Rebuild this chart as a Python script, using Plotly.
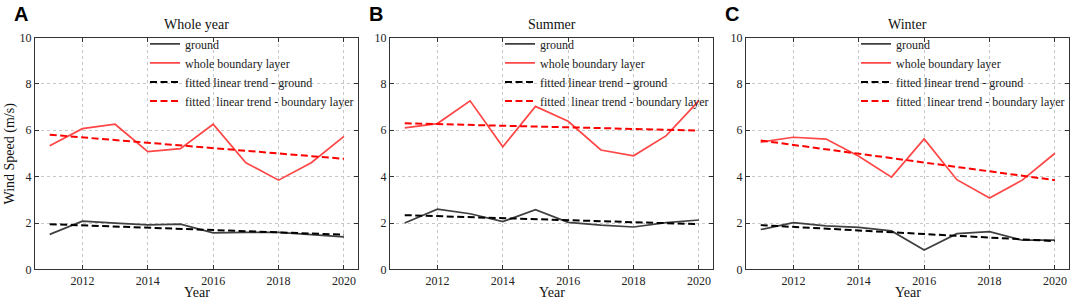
import plotly.graph_objects as go

years = [2011, 2012, 2013, 2014, 2015, 2016, 2017, 2018, 2019, 2020]
trend_years = [2011, 2020]

panel_titles = ["Whole year", "Summer", "Winter"]
panel_letters = ["A", "B", "C"]

# Whole year
ground_A = [1.51, 2.08, 2.00, 1.92, 1.95, 1.58, 1.60, 1.60, 1.50, 1.40]
bl_A = [5.33, 6.07, 6.26, 5.08, 5.21, 6.26, 4.60, 3.85, 4.60, 5.74]
trend_ground_A = [1.95, 1.50]
trend_bl_A = [5.81, 4.77]

# Summer
ground_B = [2.00, 2.60, 2.40, 2.06, 2.58, 2.03, 1.91, 1.83, 2.02, 2.13]
bl_B = [6.10, 6.29, 7.27, 5.29, 7.03, 6.39, 5.15, 4.90, 5.77, 7.28]
trend_ground_B = [2.34, 1.95]
trend_bl_B = [6.30, 5.99]

# Winter
ground_C = [1.72, 2.02, 1.88, 1.81, 1.66, 0.84, 1.54, 1.63, 1.26, 1.26]
bl_C = [5.49, 5.70, 5.62, 4.88, 3.98, 5.63, 3.87, 3.08, 3.85, 5.01]
trend_ground_C = [1.91, 1.22]
trend_bl_C = [5.56, 3.85]

series = [
    (ground_A, bl_A, trend_ground_A, trend_bl_A),
    (ground_B, bl_B, trend_ground_B, trend_bl_B),
    (ground_C, bl_C, trend_ground_C, trend_bl_C),
]

names = ["ground", "whole boundary layer", "fitted linear trend - ground",
         "fitted  linear trend - boundary layer"]

W, H = 1072, 306
x_px = [(35, 358), (390, 713), (746, 1069)]
y_top, y_bot = 32, 275
ydom = [1 - y_bot / H, 1 - y_top / H]

FONT = "Liberation Serif"
fig = go.Figure()

for i, (g, b, tg, tb) in enumerate(series):
    xa = "x" if i == 0 else f"x{i+1}"
    ya = "y" if i == 0 else f"y{i+1}"
    lg = "legend" if i == 0 else f"legend{i+1}"
    common = dict(xaxis=xa, yaxis=ya, legend=lg, mode="lines", hoverinfo="skip")
    fig.add_trace(go.Scatter(x=years, y=g, name=names[0],
                             line=dict(color="#404040", width=1.7), **common))
    fig.add_trace(go.Scatter(x=years, y=b, name=names[1],
                             line=dict(color="#ff4646", width=1.7), **common))
    fig.add_trace(go.Scatter(x=trend_years, y=tg, name=names[2],
                             line=dict(color="#000000", width=2, dash="7px,3.5px"), **common))
    fig.add_trace(go.Scatter(x=trend_years, y=tb, name=names[3],
                             line=dict(color="#ff0000", width=2, dash="7px,3.5px"), **common))

layout = dict(
    width=W, height=H,
    margin=dict(l=0, r=0, t=0, b=0),
    paper_bgcolor="white", plot_bgcolor="white",
    font=dict(family=FONT, size=12, color="#222"),
    showlegend=True,
)

axis_common = dict(
    showline=True, linecolor="#333", linewidth=1.2, mirror="ticks",
    ticks="inside", ticklen=4, tickcolor="#333",
    showgrid=True, gridcolor="#c8c8c8", griddash="dot", gridwidth=1,
    zeroline=False, tickfont=dict(family=FONT, size=12, color="#222"),
)

annotations = []
for i in range(3):
    sfx = "" if i == 0 else str(i + 1)
    x0, x1 = x_px[i]
    layout[f"xaxis{sfx}"] = dict(
        domain=[x0 / W, x1 / W], range=[2010.55, 2020.43],
        tickvals=[2012, 2014, 2016, 2018, 2020],
        anchor=f"y{sfx}", **axis_common)
    layout[f"yaxis{sfx}"] = dict(
        domain=ydom, range=[0, 10], tickvals=[0, 2, 4, 6, 8, 10],
        anchor=f"x{sfx}", **axis_common)
    layout[f"legend{sfx}"] = dict(
        x=(x0 + 110) / W, y=1 - 23.5 / H, xanchor="left", yanchor="top",
        xref="paper", yref="paper",
        bgcolor="rgba(255,255,255,0)", borderwidth=0,
        font=dict(family=FONT, size=12, color="#222"),
        tracegroupgap=0, itemwidth=30,
    )
    annotations.append(dict(
        text=panel_titles[i], x=(x0 + x1) / 2 / W, y=1 - 18 / H,
        xref="paper", yref="paper", showarrow=False,
        font=dict(family=FONT, size=14, color="#111"),
        xanchor="center", yanchor="middle"))
    annotations.append(dict(
        text="<b>" + panel_letters[i] + "</b>", x=(x0 - 14) / W, y=1 - 7 / H,
        xref="paper", yref="paper", showarrow=False,
        font=dict(family="Liberation Sans", size=20, color="#000"),
        xanchor="center", yanchor="middle"))
    annotations.append(dict(
        text="Year", x=(x0 + x1) / 2 / W, y=1 - 299 / H,
        xref="paper", yref="paper", showarrow=False,
        font=dict(family=FONT, size=14, color="#111"),
        xanchor="center", yanchor="middle"))

annotations.append(dict(
    text="Wind Speed (m/s)", x=10 / W, y=(1 - (y_top + y_bot) / 2 / H),
    xref="paper", yref="paper", showarrow=False, textangle=-90,
    font=dict(family=FONT, size=14, color="#111"),
    xanchor="center", yanchor="middle"))

layout["annotations"] = annotations
fig.update_layout(**layout)
fig.write_html("out.html", config={"displayModeBar": False},
               post_script="document.body.style.margin='0';document.body.style.overflow='hidden';")
